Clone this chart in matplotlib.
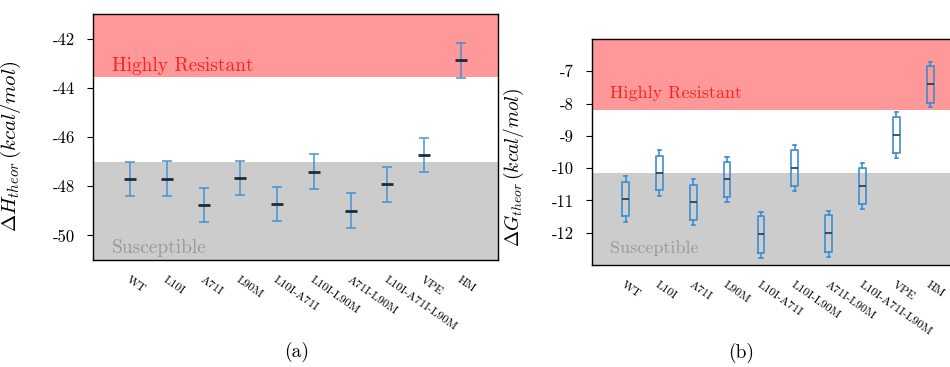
import matplotlib
matplotlib.use("Agg")
import matplotlib.pyplot as plt
import numpy as np

plt.rcParams['font.family'] = 'serif'
plt.rcParams['font.serif'] = ['cmr10', 'DejaVu Serif']
plt.rcParams['mathtext.fontset'] = 'cm'
plt.rcParams['axes.unicode_minus'] = False

mutanti = ["WT", "L10I", "A71I", "L90M", "L10I-A71I", "L10I-L90M",
           "A71I-L90M", "L10I-A71I-L90M", "VPE", "HM"]

# (a) entalpia: srednia i blad
dH_mean = [-47.70, -47.69, -48.76, -47.66, -48.73, -47.41, -48.99, -47.93, -46.74, -42.89]
dH_err = [0.70, 0.70, 0.70, 0.70, 0.70, 0.70, 0.70, 0.70, 0.70, 0.70]

# (b) energia swobodna: statystyki pudelek
dG_med = [-10.96, -10.16, -11.06, -10.34, -12.05, -9.98, -12.02, -10.54, -8.97, -7.40]
dG_q1 = [-11.49, -10.67, -11.61, -10.90, -12.62, -10.55, -12.59, -11.10, -9.53, -7.98]
dG_q3 = [-10.43, -9.63, -10.52, -9.80, -11.49, -9.44, -11.46, -9.99, -8.41, -6.83]
dG_lo = [-11.67, -10.86, -11.76, -11.06, -12.78, -10.71, -12.75, -11.25, -9.68, -8.11]
dG_hi = [-10.25, -9.44, -10.35, -9.64, -11.36, -9.29, -11.32, -9.85, -8.26, -6.71]

red = "#ff9999"
gray = "#cccccc"
blue = "#3b8ed4"

fig = plt.figure(figsize=(9.5, 3.67), dpi=100)
ax1 = fig.add_axes([0.0982, 0.2916, 0.4257, 0.6703])
ax2 = fig.add_axes([0.6228, 0.2779, 0.392, 0.6158])

x = np.arange(len(mutanti))

# ---- panel (a)
ax1.axhspan(-43.55, -41, color=red, lw=0, zorder=0)
ax1.axhspan(-51, -47.0, color=gray, lw=0, zorder=0)
ax1.errorbar(x, dH_mean, yerr=dH_err, fmt='none', ecolor=blue, elinewidth=1.3,
             capsize=3.5, capthick=1.3, alpha=0.8, zorder=2)
ax1.plot(x, dH_mean, linestyle='none', marker='_', markersize=8, markeredgewidth=2,
         color='#1c2b3a', zorder=3)
ax1.text(-0.49, -43.3, "Highly Resistant", color="#ff2020", fontsize=14)
ax1.text(-0.49, -50.7, "Susceptible", color="#999999", fontsize=14)
ax1.set_xlim(-1, 10)
ax1.set_ylim(-51, -41)
ax1.set_yticks([-42, -44, -46, -48, -50])
ax1.set_ylabel(r"$\Delta H_{theor}\,(kcal/mol)$", fontsize=15)
ax1.yaxis.set_label_coords(-0.173, 0.46)

# ---- panel (b)
ax2.axhspan(-8.2, -6, color=red, lw=0, zorder=0)
ax2.axhspan(-13, -10.15, color=gray, lw=0, zorder=0)
stats = []
for i in range(len(mutanti)):
    stats.append(dict(med=dG_med[i], q1=dG_q1[i], q3=dG_q3[i],
                      whislo=dG_lo[i], whishi=dG_hi[i], fliers=[]))
ax2.bxp(stats, positions=x, widths=0.2, showfliers=False,
        boxprops=dict(color=blue, linewidth=1.2),
        whiskerprops=dict(color=blue, linewidth=1.2),
        capprops=dict(color=blue, linewidth=1.2),
        medianprops=dict(color='#333333', linewidth=1.2),
        manage_ticks=False)
ax2.text(-0.47, -7.83, "Highly Resistant", color="#ff2020", fontsize=13)
ax2.text(-0.47, -12.64, "Susceptible", color="#999999", fontsize=13)
ax2.set_xlim(-1, 10)
ax2.set_ylim(-13, -6)
ax2.set_yticks([-7, -8, -9, -10, -11, -12])
ax2.set_ylabel(r"$\Delta G_{theor}\,(kcal/mol)$", fontsize=14)
ax2.yaxis.set_label_coords(-0.175, 0.43)

for ax in (ax1, ax2):
    ax.set_xticks(x)
    ax.set_xticklabels(mutanti, rotation=-35, ha='left', rotation_mode='anchor', fontsize=8.5)
    ax.tick_params(axis='x', length=0, pad=11)
    ax.tick_params(axis='y', labelsize=12, direction='out', length=4, pad=9)
    for s in ax.spines.values():
        s.set_linewidth(1.0)

fig.text(297 / 950, 1 - 352 / 367, "(a)", ha='center', va='center', fontsize=14)
fig.text(741 / 950, 1 - 353 / 367, "(b)", ha='center', va='center', fontsize=14)

fig.savefig("out.png", dpi=100)
